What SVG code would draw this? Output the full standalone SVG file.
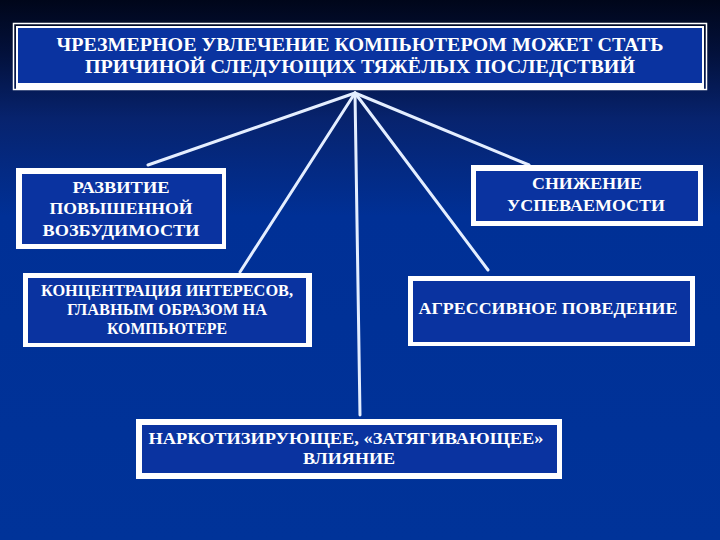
<svg xmlns="http://www.w3.org/2000/svg" width="720" height="540" viewBox="0 0 720 540">
<defs>
<linearGradient id="bg" x1="0" y1="0" x2="0" y2="1">
<stop offset="0" stop-color="#00061a"/>
<stop offset="0.1" stop-color="#03113c"/>
<stop offset="0.22" stop-color="#07236e"/>
<stop offset="0.4" stop-color="#003096"/>
<stop offset="1" stop-color="#003399"/>
</linearGradient>
<style>
.frame{fill:#ffffff;}
.inner{fill:#0a33a0;}
.t{font-family:"Liberation Serif","Times New Roman",serif;font-weight:bold;fill:#ffffff;text-anchor:middle;}
.c{stroke:#e4eeff;stroke-width:3;fill:none;stroke-linecap:round;}
</style>
</defs>
<rect x="0" y="0" width="720" height="540" fill="url(#bg)"/>
<g id="connectors">
<line class="c" x1="355" y1="93" x2="148" y2="165"/>
<line class="c" x1="355" y1="93" x2="240" y2="272"/>
<line class="c" x1="355" y1="93" x2="360" y2="415"/>
<line class="c" x1="355" y1="93" x2="488" y2="270"/>
<line class="c" x1="355" y1="93" x2="529" y2="165"/>
</g>
<g id="title">
<rect x="13.5" y="23.5" width="693" height="66" fill="none" stroke="#ffffff" stroke-width="1.5"/>
<rect x="16" y="26" width="688" height="64" class="frame"/>
<rect x="18" y="28" width="684" height="55" class="inner"/>
<text class="t" font-size="19" x="360" y="51" textLength="607" lengthAdjust="spacingAndGlyphs">ЧРЕЗМЕРНОЕ УВЛЕЧЕНИЕ КОМПЬЮТЕРОМ МОЖЕТ СТАТЬ</text>
<text class="t" font-size="19" x="360" y="73" textLength="550" lengthAdjust="spacingAndGlyphs">ПРИЧИНОЙ СЛЕДУЮЩИХ ТЯЖЁЛЫХ ПОСЛЕДСТВИЙ</text>
</g>
<g id="node-excitability">
<rect x="16" y="168" width="210" height="81" class="frame"/>
<rect x="22" y="174" width="200" height="70" class="inner"/>
<text class="t" font-size="17" x="121" y="193" textLength="97" lengthAdjust="spacingAndGlyphs">РАЗВИТИЕ</text>
<text class="t" font-size="17" x="121" y="214" textLength="143" lengthAdjust="spacingAndGlyphs">ПОВЫШЕННОЙ</text>
<text class="t" font-size="17" x="121" y="236" textLength="157" lengthAdjust="spacingAndGlyphs">ВОЗБУДИМОСТИ</text>
</g>
<g id="node-concentration">
<rect x="23" y="273" width="289" height="74" class="frame"/>
<rect x="28" y="278" width="278" height="65" class="inner"/>
<text class="t" font-size="16" x="167" y="296" textLength="252" lengthAdjust="spacingAndGlyphs">КОНЦЕНТРАЦИЯ ИНТЕРЕСОВ,</text>
<text class="t" font-size="16" x="167" y="315" textLength="200" lengthAdjust="spacingAndGlyphs">ГЛАВНЫМ ОБРАЗОМ НА</text>
<text class="t" font-size="16" x="167" y="334" textLength="120" lengthAdjust="spacingAndGlyphs">КОМПЬЮТЕРЕ</text>
</g>
<g id="node-performance">
<rect x="471" y="165" width="232" height="61" class="frame"/>
<rect x="476" y="171" width="222" height="50" class="inner"/>
<text class="t" font-size="17" x="587" y="189" textLength="110" lengthAdjust="spacingAndGlyphs">СНИЖЕНИЕ</text>
<text class="t" font-size="17" x="586" y="211" textLength="158" lengthAdjust="spacingAndGlyphs">УСПЕВАЕМОСТИ</text>
</g>
<g id="node-aggressive">
<rect x="408" y="276" width="287" height="70" class="frame"/>
<rect x="413" y="281" width="277" height="61" class="inner"/>
<text class="t" font-size="17" x="548" y="314" textLength="259" lengthAdjust="spacingAndGlyphs">АГРЕССИВНОЕ ПОВЕДЕНИЕ</text>
</g>
<g id="node-narcotic">
<rect x="136" y="419" width="426" height="60" class="frame"/>
<rect x="142" y="425" width="415" height="48" class="inner"/>
<text class="t" font-size="16" x="346" y="444" textLength="395" lengthAdjust="spacingAndGlyphs">НАРКОТИЗИРУЮЩЕЕ, «ЗАТЯГИВАЮЩЕЕ»</text>
<text class="t" font-size="16" x="349" y="464" textLength="92" lengthAdjust="spacingAndGlyphs">ВЛИЯНИЕ</text>
</g>
</svg>
